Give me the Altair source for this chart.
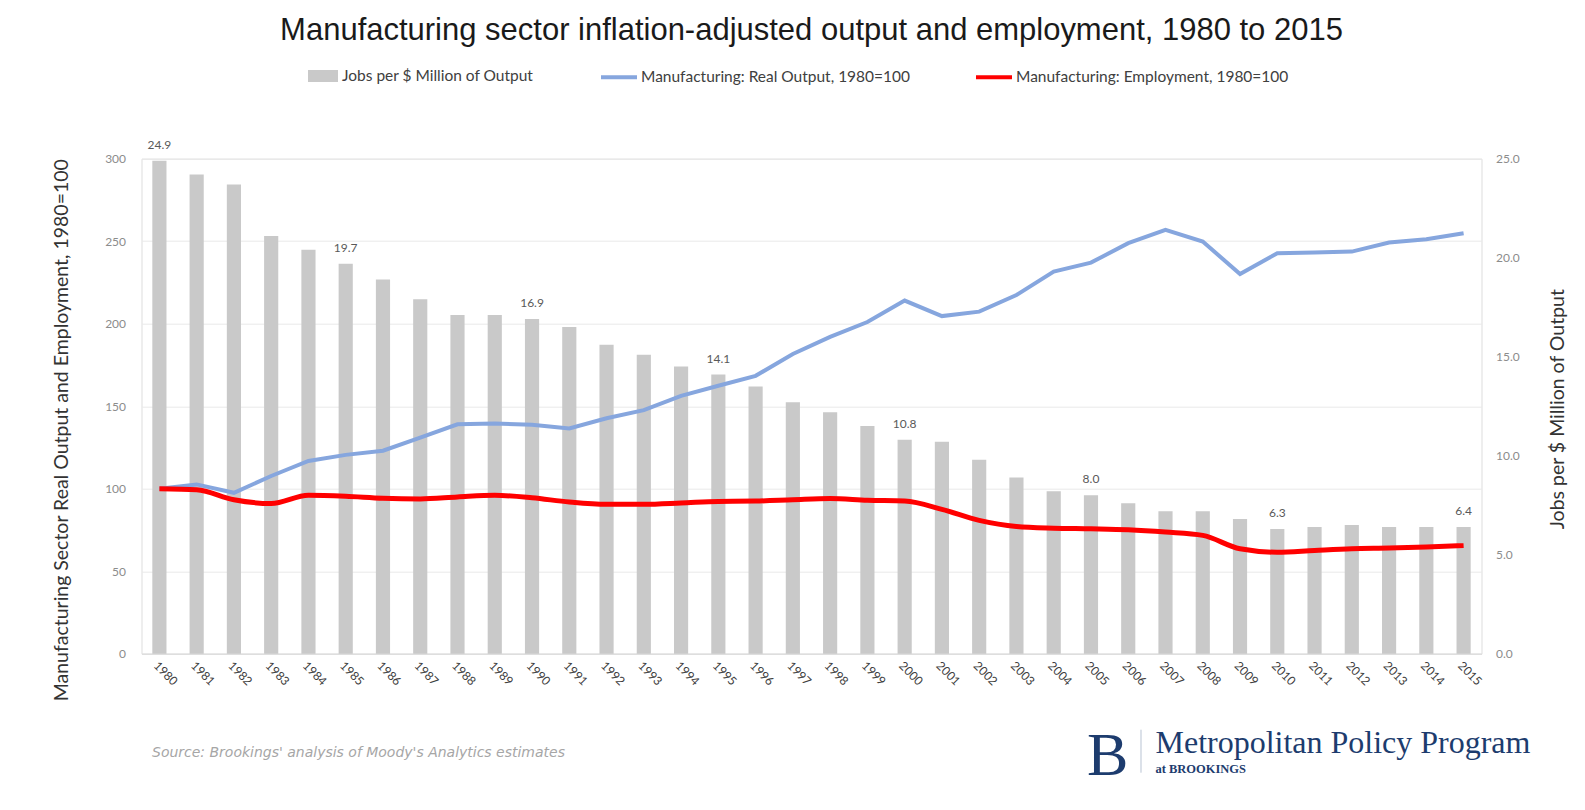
import altair as alt
import pandas as pd

years = ["1980", "1981", "1982", "1983", "1984", "1985", "1986", "1987", "1988", "1989",
         "1990", "1991", "1992", "1993", "1994", "1995", "1996", "1997", "1998", "1999",
         "2000", "2001", "2002", "2003", "2004", "2005", "2006", "2007", "2008", "2009",
         "2010", "2011", "2012", "2013", "2014", "2015"]

jobs_per_million = [24.9, 24.2, 23.7, 21.1, 20.4, 19.7, 18.9, 17.9, 17.1, 17.1,
                    16.9, 16.5, 15.6, 15.1, 14.5, 14.1, 13.5, 12.7, 12.2, 11.5,
                    10.8, 10.7, 9.8, 8.9, 8.2, 8.0, 7.6, 7.2, 7.2, 6.8,
                    6.3, 6.4, 6.5, 6.4, 6.4, 6.4]

real_output = [100, 102.6, 97.5, 107.7, 116.8, 120.5, 123, 131, 139, 139.5,
               138.7, 136.5, 142.7, 147.6, 156.3, 162.4, 168.4, 181.6, 192, 201,
               214, 204.6, 207.3, 217.4, 231.6, 237, 248.8, 256.9, 249.8, 230.1,
               242.7, 243.1, 243.7, 249.2, 251.2, 254.8]

employment = [100, 99.4, 93.3, 91, 96, 95.4, 94.2, 93.8, 95, 96,
              94.5, 91.9, 90.5, 90.5, 91.3, 92.3, 92.5, 93.3, 94, 93,
              92.5, 87.5, 80.8, 77.1, 76.1, 75.7, 75.1, 73.7, 71.7, 63.6,
              61.5, 62.6, 63.6, 64, 64.6, 65.6]

labelled_years = ["1980", "1985", "1990", "1995", "2000", "2005", "2010", "2015"]

bar_name = "Jobs per $ Million of Output"
output_name = "Manufacturing: Real Output, 1980=100"
employment_name = "Manufacturing: Employment, 1980=100"

title_text = "Manufacturing sector inflation-adjusted output and employment, 1980 to 2015"
left_title = "Manufacturing Sector Real Output and Employment, 1980=100"
right_title = "Jobs per $ Million of Output"
source_text = ["Source: Brookings' analysis of Moody's Analytics estimates"]
logo_letter = ["B"]
logo_name = ["Metropolitan Policy Program"]
logo_sub = ["at BROOKINGS"]

FONT = "Lato"
NAVY = "#1d3c6e"

bars_df = pd.DataFrame({"year": years, "jobs": jobs_per_million, "series": bar_name})
bars_df["label"] = bars_df["year"].isin(labelled_years)

lines_df = pd.DataFrame({
    "year": years * 2,
    "value": real_output + employment,
    "series": [output_name] * len(years) + [employment_name] * len(years),
})

x_enc = alt.X(
    "year:O",
    sort=years,
    scale=alt.Scale(paddingInner=0.62, paddingOuter=0.29),
    axis=alt.Axis(title=None, labelAngle=45, labelFont=FONT, labelFontSize=12,
                  labelColor="#404040", domain=True, domainColor="#d9d9d9",
                  ticks=False, labelPadding=6),
)

y_right = alt.Y(
    "jobs:Q",
    scale=alt.Scale(domain=[0, 25], nice=False),
    axis=alt.Axis(orient="right", values=[0, 5, 10, 15, 20, 25], format=".1f",
                  grid=False, domain=False, ticks=False, labelFont=FONT,
                  labelFontSize=12, labelColor="#8c8c8c", labelPadding=14,
                  title=right_title, titleFont=FONT, titleFontSize=19.5,
                  titleFontWeight="normal", titleColor="#333333", titleAngle=-90,
                  titleX=76, titleY=250, titleAlign="center", titleBaseline="middle"),
)

bars = alt.Chart(bars_df).mark_bar().encode(
    x=x_enc,
    y=y_right,
    color=alt.Color("series:N",
                    scale=alt.Scale(domain=[bar_name], range=["#c9c9c9"]),
                    legend=alt.Legend(title=None, orient="none", legendX=166.5, legendY=-97.7,
                                      symbolType="M-1,-0.4L1,-0.4L1,0.4L-1,0.4Z",
                                      symbolSize=900, symbolStrokeWidth=0,
                                      labelFont=FONT, labelFontSize=15.5, labelLimit=500,
                                      labelColor="#404040", labelOffset=4)),
)

bar_labels = alt.Chart(bars_df).transform_filter("datum.label").mark_text(
    dy=-16, font=FONT, fontSize=12, color="#595959"
).encode(
    x=alt.X("year:O", sort=years),
    y=alt.Y("jobs:Q"),
    text=alt.Text("jobs:Q", format=".1f"),
)

bar_layer = alt.layer(bars, bar_labels)

y_left = alt.Y(
    "value:Q",
    scale=alt.Scale(domain=[0, 300], nice=False),
    axis=alt.Axis(orient="left", values=[0, 50, 100, 150, 200, 250, 300],
                  grid=True, gridColor="#e9e9e9", domain=False, ticks=False,
                  labelFont=FONT, labelFontSize=12, labelColor="#8c8c8c",
                  labelPadding=16, title=left_title, titleFont=FONT,
                  titleFontSize=19.5, titleFontWeight="normal", titleColor="#333333",
                  titleAngle=-90, titleX=-80.5, titleY=271, titleAlign="center",
                  titleBaseline="middle"),
)

stroke_enc = alt.Stroke(
    "series:N",
    scale=alt.Scale(domain=[output_name, employment_name], range=["#86a6de", "#ff0000"]),
    legend=alt.Legend(title=None, orient="none", direction="horizontal",
                      legendX=457.5, legendY=-101.7, symbolType="stroke",
                      symbolSize=1296, symbolStrokeWidth=4, labelFont=FONT,
                      labelFontSize=15.5, labelLimit=500, labelColor="#404040",
                      labelOffset=2, columnPadding=57),
)

line_output = alt.Chart(lines_df).transform_filter(
    alt.datum.series == output_name
).mark_line(strokeWidth=4).encode(
    x=alt.X("year:O", sort=years), y=y_left, stroke=stroke_enc
)

line_emp = alt.Chart(lines_df).transform_filter(
    alt.datum.series == employment_name
).mark_line(strokeWidth=5, interpolate="monotone").encode(
    x=alt.X("year:O", sort=years), y=alt.Y("value:Q"), stroke=stroke_enc
)

line_layer = alt.layer(line_output, line_emp)

source = alt.Chart(pd.DataFrame({"t": source_text})).mark_text(
    align="left", baseline="middle", font="DejaVu Sans", fontStyle="italic",
    fontSize=14, color="#a6a6a6"
).encode(x=alt.value(10.5), y=alt.value(594), text="t:N")

logo_b = alt.Chart(pd.DataFrame({"t": logo_letter})).mark_text(
    align="left", baseline="alphabetic", font="Liberation Serif", fontSize=62,
    color=NAVY
).encode(x=alt.value(945.5), y=alt.value(616), text="t:N")

logo_sep = alt.Chart(pd.DataFrame({"t": logo_letter})).mark_rule(
    color="#b9c3d3", strokeWidth=1
).encode(x=alt.value(999.5), y=alt.value(571), y2=alt.value(614))

logo_main = alt.Chart(pd.DataFrame({"t": logo_name})).mark_text(
    align="left", baseline="middle", font="Liberation Serif", fontSize=32,
    color=NAVY
).encode(x=alt.value(1014), y=alt.value(584), text="t:N")

logo_small = alt.Chart(pd.DataFrame({"t": logo_sub})).mark_text(
    align="left", baseline="middle", font="Liberation Serif", fontSize=12.5,
    fontWeight="bold", color=NAVY
).encode(x=alt.value(1014), y=alt.value(610), text="t:N")

chart = alt.layer(
    bar_layer, line_layer, source, logo_b, logo_sep, logo_main, logo_small
).resolve_scale(
    y="independent"
).properties(
    width=1340,
    height=495,
    autosize=alt.AutoSizeParams(type="none"),
    padding={"left": 133.5, "top": 150.7, "right": 95.5, "bottom": 148},
    title=alt.TitleParams(title_text, font="Liberation Sans", fontSize=31,
                          fontWeight="normal", color="#1a1a1a", anchor="middle",
                          frame="group", offset=10),
).configure_view(stroke=None).configure(background="white")

chart.save("out.html", embed_options={"renderer": "svg", "actions": False})
